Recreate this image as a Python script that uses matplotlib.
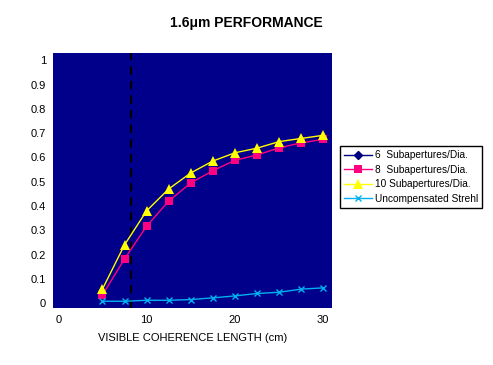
#!/usr/bin/env python3
"""1.6um performance vs visible coherence length"""

import matplotlib
matplotlib.use('Agg')
import matplotlib.pyplot as plt

plt.rcParams['font.family'] = ['Liberation Sans', 'DejaVu Sans']

coherence_cm = [5, 7.5, 10, 12.5, 15, 17.5, 20, 22.5, 25, 27.5, 30]
strehl_6 = [0.034, 0.182, 0.317, 0.42, 0.495, 0.545, 0.588, 0.61, 0.639, 0.66, 0.674]
strehl_8 = [0.034, 0.182, 0.317, 0.42, 0.495, 0.545, 0.588, 0.61, 0.639, 0.66, 0.674]
strehl_10 = [0.058, 0.24, 0.38, 0.47, 0.536, 0.585, 0.619, 0.638, 0.665, 0.678, 0.691]
strehl_uncomp = [0.008, 0.008, 0.012, 0.012, 0.015, 0.022, 0.03, 0.04, 0.045, 0.058, 0.063]
cutoff_cm = 8.2

y_ticks = [0, 0.1, 0.2, 0.3, 0.4, 0.5, 0.6, 0.7, 0.8, 0.9, 1]
y_labels = ['0', '0.1', '0.2', '0.3', '0.4', '0.5', '0.6', '0.7', '0.8', '0.9', '1']
x_ticks = [0, 10, 20, 30]

fig = plt.figure(figsize=(4.93, 3.65), dpi=100)
ax = fig.add_axes([0.1075, 0.156, 0.566, 0.699])
ax.set_facecolor('#00008a')

ax.axvline(cutoff_cm, color='black', linestyle=(0, (4, 3)), linewidth=1.5)

ax.plot(coherence_cm, strehl_6, color='#000080', marker='D', markersize=4,
        linewidth=1, label='6  Subapertures/Dia.')
ax.plot(coherence_cm, strehl_8, color='#ff0080', marker='s', markersize=5.5,
        markeredgewidth=0, linewidth=1, label='8  Subapertures/Dia.')
ax.plot(coherence_cm, strehl_10, color='#ffff00', marker='^', markersize=6.5,
        markeredgewidth=0, linewidth=1, label='10 Subapertures/Dia.')
ax.plot(coherence_cm, strehl_uncomp, color='#00b0f0', marker='x', markersize=5,
        linewidth=1, label='Uncompensated Strehl')

ax.set_xlim(-0.6, 31)
ax.set_ylim(-0.02, 1.03)
ax.set_xticks(x_ticks)
ax.set_yticks(y_ticks)
ax.set_yticklabels(y_labels)
ax.tick_params(length=0, labelsize=8, pad=5)
for s in ax.spines.values():
  s.set_visible(False)

ax.set_xlabel('VISIBLE COHERENCE LENGTH (cm)', fontsize=8, labelpad=6)
fig.text(0.5, 0.937, '1.6\u03bcm PERFORMANCE', ha='center', va='center',
         fontsize=10, fontweight='bold')

leg = fig.legend(loc='upper left', bbox_to_anchor=(0.69, 0.6), fontsize=7.3,
                 handlelength=2.7, handletextpad=0.3, borderpad=0.4,
                 labelspacing=0.45, fancybox=False, framealpha=1,
                 edgecolor='black', borderaxespad=0)
leg.get_frame().set_linewidth(1)

fig.savefig('out.png', dpi=100)
